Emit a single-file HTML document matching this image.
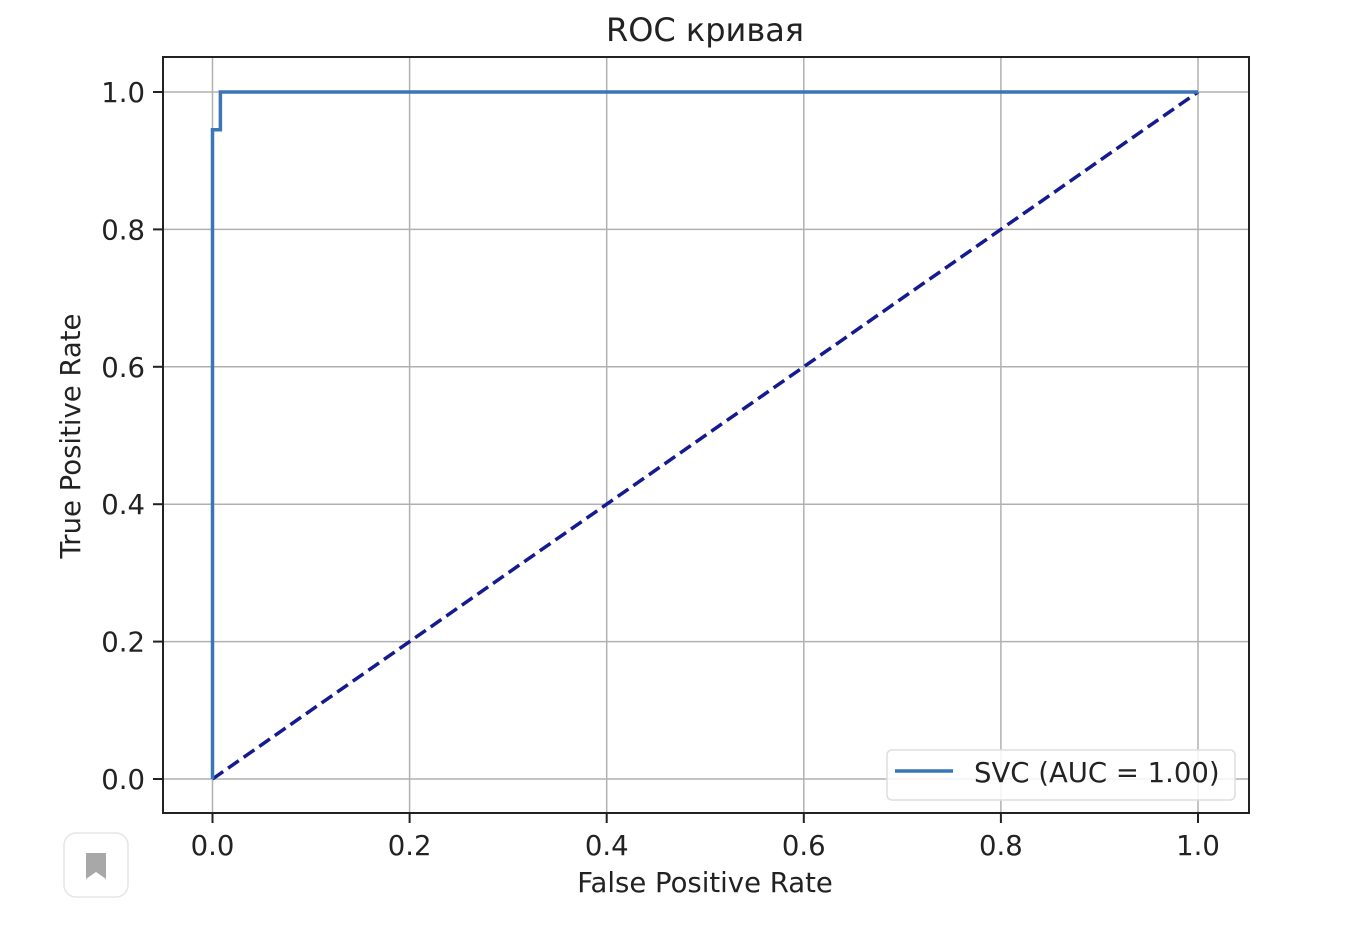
<!DOCTYPE html>
<html><head><meta charset="utf-8"><style>
body{margin:0;background:#fff;width:1356px;height:934px;overflow:hidden;font-family:"DejaVu Sans","Liberation Sans",sans-serif}
svg{position:absolute;left:0;top:0}
</style></head><body>
<svg id="chart" width="1356" height="934" font-family="DejaVu Sans, Liberation Sans, sans-serif">
<text x="705" y="41" font-size="32" text-anchor="middle" fill="#222">ROC кривая</text>
<g id="grid"></g>
<g id="ticks"></g>
<g id="series"></g>
<rect x="163" y="57" width="1086" height="756" fill="none" stroke="#222" stroke-width="2"/>
<text x="705" y="892" font-size="27.5" text-anchor="middle" fill="#222">False Positive Rate</text>
<text x="80" y="436" font-size="27.5" text-anchor="middle" fill="#222" transform="rotate(-90 80 436)">True Positive Rate</text>
<g>
<rect x="887" y="750" width="348" height="50" rx="5" fill="#fff" fill-opacity="0.85" stroke="#ddd" stroke-width="1.5"/>
<line x1="895" y1="771" x2="953" y2="771" stroke="#3a76b5" stroke-width="3.5"/>
<text x="974" y="782" font-size="27.5" fill="#222">SVC (AUC = 1.00)</text>
</g>
<rect x="64" y="833" width="64" height="64" rx="12" fill="#fff" stroke="#e6e6e6" stroke-width="1.5"/>
<path d="M86 853 H106 V879 L96 872 L86 879 Z" fill="#a8a8a8"/>
</svg>
<script>
const xTicks=[0,0.2,0.4,0.6,0.8,1.0];
const yTicks=[0,0.2,0.4,0.6,0.8,1.0];
const tickLabels=["0.0","0.2","0.4","0.6","0.8","1.0"];
const fpr=[0,0,0.008,0.008,1];
const tpr=[0,0.945,0.945,1,1];
const diagX=[0,1];
const diagY=[0,1];
const NS="http://www.w3.org/2000/svg";
const X=v=>212.5+v*985.5, Y=v=>779-v*687;
function mk(tag,attrs,parent){const e=document.createElementNS(NS,tag);for(const k in attrs)e.setAttribute(k,attrs[k]);document.getElementById(parent).appendChild(e);return e;}
xTicks.forEach((t,i)=>{
 let g=mk('line',{x1:X(t),x2:X(t),y1:57,y2:813,stroke:'#b0b0b0','stroke-width':1.5},'grid');
 
 
 let tk=mk('line',{x1:X(t),x2:X(t),y1:813,y2:823,stroke:'#222','stroke-width':2},'ticks');
 
 
 let l=mk('text',{x:X(t),y:855,'font-size':27.5,'text-anchor':'middle',fill:'#222'},'ticks');
 l.textContent=tickLabels[i];
 
 
});
yTicks.forEach((t,i)=>{
 let g=mk('line',{x1:163,x2:1249,y1:Y(t),y2:Y(t),stroke:'#b0b0b0','stroke-width':1.5},'grid');
 
 
 let tk=mk('line',{x1:153,x2:163,y1:Y(t),y2:Y(t),stroke:'#222','stroke-width':2},'ticks');
 
 
 let l=mk('text',{x:145,y:Y(t)+10,'font-size':27.5,'text-anchor':'end',fill:'#222'},'ticks');
 l.textContent=tickLabels[i];
 
 
});
let d=mk('polyline',{points:diagX.map((v,i)=>X(v)+','+Y(diagY[i])).join(' '),fill:'none',stroke:'#141a8f','stroke-width':3.5,'stroke-dasharray':'13,6'},'series');


let r=mk('polyline',{points:fpr.map((v,i)=>X(v)+','+Y(tpr[i])).join(' '),fill:'none',stroke:'#3a76b5','stroke-width':3.5},'series');


</script>
</body></html>
